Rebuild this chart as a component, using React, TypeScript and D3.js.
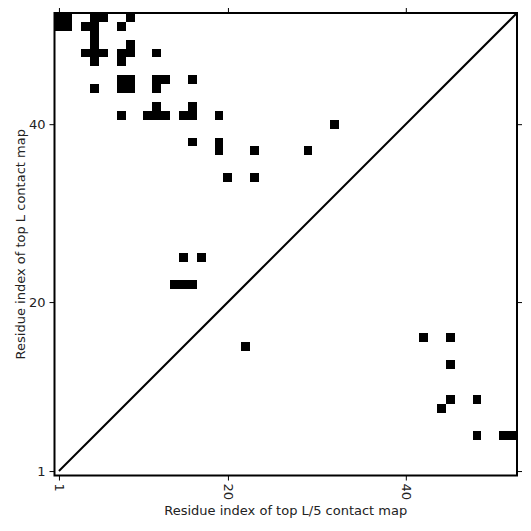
import { useEffect, useRef } from "react";
import { select, scaleLinear, axisBottom, axisLeft, axisTop, axisRight } from "d3";

// sequence length
const seqLength = 52;

// upper-left triangle: top L contacts [residue i, residue j]
const topLContacts: [number, number][] = [
    [1, 52], [2, 52], [5, 52], [6, 52], [9, 52],
    [1, 51], [2, 51], [4, 51], [5, 51], [8, 51],
    [5, 50],
    [5, 49], [9, 49],
    [4, 48], [5, 48], [6, 48], [8, 48], [9, 48], [12, 48],
    [5, 47], [8, 47],
    [8, 45], [9, 45], [12, 45], [13, 45], [16, 45],
    [5, 44], [8, 44], [9, 44], [12, 44],
    [12, 42], [16, 42],
    [8, 41], [11, 41], [12, 41], [13, 41], [15, 41], [16, 41], [19, 41],
    [32, 40],
    [16, 38], [19, 38],
    [19, 37], [23, 37], [29, 37],
    [20, 34], [23, 34],
    [15, 25], [17, 25],
    [14, 22], [15, 22], [16, 22],
];

// lower-right triangle: top L/5 contacts
const topL5Contacts: [number, number][] = [
    [42, 16], [45, 16],
    [22, 15],
    [45, 13],
    [45, 9], [48, 9],
    [44, 8],
    [48, 5], [51, 5], [52, 5],
];

const tickValues = [1, 20, 40];

const xLabel = "Residue index of top L/5 contact map";
const yLabel = "Residue index of top L contact map";

export default function App() {
    const svgRef = useRef<SVGSVGElement>(null);

    useEffect(() => {
        const svg = select(svgRef.current);
        svg.selectAll("*").remove();

        const left = 54.5;
        const right = 517;
        const top = 13;
        const bottom = 475.5;
        const font = "'DejaVu Sans', sans-serif";

        const x = scaleLinear().domain([0.5, seqLength + 0.5]).range([left, right]);
        const y = scaleLinear().domain([0.5, seqLength + 0.5]).range([bottom, top]);

        const cells = svg.append("g").attr("shape-rendering", "crispEdges");
        cells
            .selectAll("rect")
            .data([...topLContacts, ...topL5Contacts])
            .join("rect")
            .attr("x", (d) => x(d[0] - 0.5))
            .attr("y", (d) => y(d[1] + 0.5))
            .attr("width", (d) => x(d[0] + 0.5) - x(d[0] - 0.5))
            .attr("height", (d) => y(d[1] - 0.5) - y(d[1] + 0.5))
            .attr("fill", "black");

        // diagonal
        svg.append("line")
            .attr("x1", x(1))
            .attr("y1", y(1))
            .attr("x2", x(seqLength + 0.5))
            .attr("y2", y(seqLength + 0.5))
            .attr("stroke", "black")
            .attr("stroke-width", 2);

        // axes
        const styleAxis = (g: any) => {
            g.select(".domain").remove();
            g.selectAll("line").attr("stroke", "black").attr("stroke-width", 1);
            g.selectAll("text")
                .attr("fill", "#222")
                .style("font-family", font)
                .style("font-size", "13px");
        };

        svg.append("g")
            .attr("transform", `translate(0,${bottom})`)
            .call(axisBottom(x).tickValues(tickValues).tickSize(5).tickPadding(3))
            .call(styleAxis)
            .selectAll("text")
            .attr("transform", "rotate(90)")
            .attr("text-anchor", "start")
            .attr("x", 8)
            .attr("y", 0)
            .attr("dy", "0.35em");

        svg.append("g")
            .attr("transform", `translate(${left},0)`)
            .call(axisLeft(y).tickValues(tickValues).tickSize(5).tickPadding(4))
            .call(styleAxis);

        svg.append("g")
            .attr("transform", `translate(0,${top})`)
            .call(axisTop(x).tickValues(tickValues).tickSize(5).tickFormat(() => ""))
            .call(styleAxis);

        svg.append("g")
            .attr("transform", `translate(${right},0)`)
            .call(axisRight(y).tickValues(tickValues).tickSize(5).tickFormat(() => ""))
            .call(styleAxis);

        // frame
        svg.append("rect")
            .attr("x", left)
            .attr("y", top)
            .attr("width", right - left)
            .attr("height", bottom - top)
            .attr("fill", "none")
            .attr("stroke", "black")
            .attr("stroke-width", 2);

        // labels
        svg.append("text")
            .attr("x", (left + right) / 2)
            .attr("y", 515)
            .attr("text-anchor", "middle")
            .attr("fill", "#222")
            .style("font-family", font)
            .style("font-size", "13px")
            .text(xLabel);

        svg.append("text")
            .attr("transform", `translate(25,${(top + bottom) / 2}) rotate(-90)`)
            .attr("text-anchor", "middle")
            .attr("fill", "#222")
            .style("font-family", font)
            .style("font-size", "13px")
            .text(yLabel);
    }, []);

    return (
        <svg
            ref={svgRef}
            width={531}
            height={531}
            style={{ position: "absolute", left: 0, top: 0, background: "white" }}
        />
    );
}
